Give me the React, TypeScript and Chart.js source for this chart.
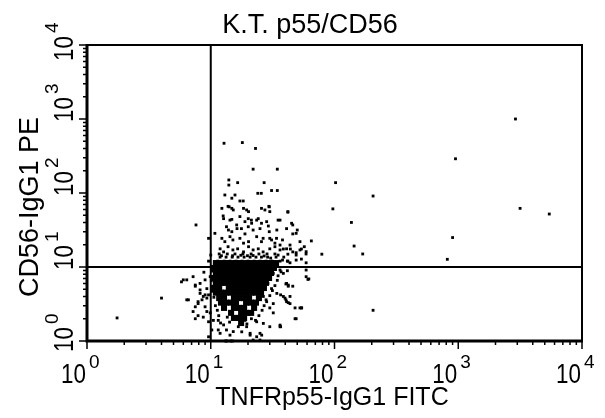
import React, { useEffect, useRef } from 'react';
import { Chart, registerables } from 'chart.js';

Chart.register(...registerables);

// ---------- text ----------
const PLOT_TITLE = 'K.T. p55/CD56';
const X_TITLE = 'TNFRp55-IgG1 FITC';
const Y_TITLE = 'CD56-IgG1 PE';

// ---------- axes ----------
const AXIS_MIN = 1;
const AXIS_MAX = 10000;
const DECADES = [1, 10, 100, 1000, 10000];
const DECADE_EXPONENTS = ['0', '1', '2', '3', '4'];
const MINOR_MULTIPLIERS = [2, 3, 4, 5, 6, 7, 8, 9];
const GATE_X = 10;
const GATE_Y = 10;

// ---------- events (FITC, PE) ----------
// dense core of the population, one row per PE level
const coreRowY = [11.3, 9.7, 8.3, 7.1, 6.1, 5.2, 4.5, 3.8, 3.3, 2.8, 2.4, 2.05, 1.75];
const coreRowX = [
  [11.0, 12.1, 13.3, 14.6, 16.0, 17.6, 19.3, 21.2, 23.2, 25.5, 27.9, 30.7, 33.7],
  [10.6, 11.7, 12.8, 14.0, 15.4, 16.9, 18.6, 20.4, 22.4, 24.5, 26.9, 29.6, 32.4],
  [11.0, 12.1, 13.3, 14.6, 16.0, 17.6, 19.3, 21.2, 23.2, 25.5, 27.9, 30.7],
  [10.6, 11.7, 12.8, 14.0, 15.4, 16.9, 18.6, 20.4, 22.4, 24.5, 26.9, 29.6],
  [11.0, 12.1, 13.3, 14.6, 16.0, 17.6, 19.3, 21.2, 23.2, 25.5, 27.9],
  [10.6, 11.7, 14.0, 15.4, 16.9, 18.6, 20.4, 22.4, 24.5, 26.9],
  [11.0, 12.1, 13.3, 14.6, 16.0, 17.6, 19.3, 21.2, 23.2, 25.5],
  [11.7, 12.8, 15.4, 16.9, 18.6, 20.4, 24.5],
  [12.1, 13.3, 14.6, 16.0, 19.3, 21.2, 23.2],
  [12.8, 15.4, 16.9, 18.6, 22.4],
  [14.6, 17.6, 19.3, 21.2],
  [15.4, 16.9, 18.6],
  [17.6],
];

const upperTail: [number, number][] = [
  [12.8, 470], [18, 480], [23, 400], [22, 210], [34.5, 210], [14, 150], [14, 128], [16.5, 138],
  [27, 138], [31, 108], [34.5, 108], [24, 99], [25.6, 99], [13, 94], [15.7, 94], [14.8, 85],
  [17.2, 78], [18.3, 78], [29.5, 66], [25.7, 62], [12.3, 62], [13.8, 66], [14.8, 62], [15.2, 59],
  [18.4, 62], [20.2, 56], [27.4, 59], [30, 56], [42, 56],
];

const midTail: [number, number][] = [
  [12.7, 45], [14.3, 43], [17.2, 48], [18.9, 41], [21.3, 43], [24.2, 45], [25.7, 39], [28.3, 41], [35, 43], [45, 39],
  [13.4, 35], [13.9, 31.6], [14.8, 30], [16.3, 33], [17.7, 33], [18.9, 28], [22, 31.6], [25, 33], [29.7, 30],
  [34.2, 31.6], [41, 33], [46, 28], [50, 31.6],
  [12.3, 24.4], [13, 22], [14.3, 25.7], [15.1, 23.2], [17.2, 24.4], [18.4, 21], [20.2, 22], [23.5, 25.7],
  [25.7, 22], [30, 24.4], [33, 21], [38, 23.2], [43.7, 19.8], [52.6, 22], [57, 18.8],
  [11.9, 17.6], [12.7, 16], [13.8, 18.8], [15.1, 17], [16.5, 17.6], [18.4, 16], [20.2, 18.8], [22, 17],
  [24.2, 17.6], [26.5, 16], [30, 17.6], [33, 15], [36.3, 17], [41, 17.6], [46, 16], [52.6, 17], [58.9, 15],
  [14.1, 65], [19.5, 59], [29.7, 65], [12.6, 49], [14.8, 44], [20.1, 45], [23.5, 43], [36.3, 43],
  [29.2, 35.8], [16.2, 37], [21.4, 39], [20.1, 35], [26.5, 24.4], [31, 23.2], [34, 24.4], [33, 18.8], [36.3, 19.8],
];

const gateBand: [number, number][] = [
  [11.7, 15], [13.6, 15], [15.7, 15], [18.2, 15], [21.2, 15], [24.5, 15], [28.5, 15],
  [11.9, 13.6], [13.3, 13.6], [14.9, 13.6], [16.6, 13.6], [18.6, 13.6], [20.8, 13.6], [23.2, 13.6],
  [25.7, 13.6], [28.8, 13.6], [33.7, 13.6], [38.9, 13.6],
  [11.4, 12], [12.8, 12], [14.3, 12], [16, 12], [17.9, 12], [20, 12], [22.4, 12], [25, 12],
  [28, 12], [31.3, 12], [36.3, 12], [42, 12],
  [12.2, 14.2], [15, 14.2], [17.5, 14.4], [19.8, 14.2], [22, 14.3], [27, 14.1], [30.5, 13.2], [35, 14.5],
];

const leftOfGate: [number, number][] = [
  [7.6, 37], [9.6, 24.4], [10.8, 28.5], [10, 14.5], [9.6, 12], [8.8, 8.5], [10.5, 9.1], [9.9, 7.4],
  [9.0, 6.7], [8.2, 6.0], [9.3, 5.1], [8.2, 4.4], [8.7, 4.0], [7.9, 3.4], [7.5, 2.9], [7.2, 2.5],
  [7.9, 2.2], [7.5, 2.0], [6.4, 3.6], [5.8, 6.3], [6.0, 6.7], [6.4, 6.7], [9.6, 1.14], [10.2, 1.41],
  [10.5, 1.9], [9.9, 2.4], [7.5, 5.5], [8.5, 3.6], [9.3, 3.8], [9.6, 4.2], [6.6, 3.6], [8.7, 2.1],
  [7.2, 7.4], [7.5, 5.7], [8.2, 4.9], [9.0, 4.2], [7.9, 3.2], [9.3, 2.5], [9.0, 2.9], [9.6, 1.82],
  [10.3, 8.8], [10.1, 6.5], [10.4, 5.5], [10.2, 4.7], [10.6, 3.9], [10.9, 3.0], [11.3, 2.6], [11.6, 2.2],
  [12.0, 1.75],
];

const lowerHalo: [number, number][] = [
  [32, 8.2], [36.3, 9.1], [29, 6.0], [31, 5.1], [34.2, 4.4], [38.6, 4.0], [41, 3.4], [43.7, 3.2],
  [26.6, 4.0], [28.3, 3.4], [30, 2.8], [32, 2.4], [41, 6.0], [42.3, 5.7], [48, 2.8], [52.6, 2.8],
  [59, 7.4], [61, 6.8], [36.3, 1.56], [48, 2.0], [26.6, 1.73], [25, 1.27], [22, 1.03], [11.5, 1.9],
  [12.7, 1.65], [13.4, 1.41], [11.9, 1.27], [14.3, 1.2], [16.7, 1.56], [17.8, 1.33], [19.5, 1.56],
  [20.8, 1.27], [18.9, 1.9], [21.3, 2.0], [23.5, 1.82], [13.5, 1], [14.5, 1], [13.2, 1], [15, 1],
  [11.5, 1.41], [15.2, 1.34], [20.8, 1.2], [23.5, 1.14], [25, 1.03], [32, 3.2], [30, 1.56],
  [25.8, 1.2], [43.7, 4.0], [54.3, 2.8], [36.3, 1.64],
  [37, 8.6], [35, 7.6], [34.5, 6.6], [33, 5.6], [31.5, 4.8], [30, 4.1], [28, 3.6], [27, 3.0],
  [26, 2.6], [24.5, 2.2], [23, 1.9], [13.6, 2.1], [20.6, 2.3], [14.2, 1.8], [19.6, 1.7],
];

const outliers: [number, number][] = [
  [2900, 1000], [950, 290], [102, 138], [205, 91], [42, 55], [97, 61], [3160, 62], [5440, 52],
  [137, 40], [46, 37], [49, 28.5], [900, 25], [65, 22.5], [144, 19.2], [169, 15], [79, 14.9],
  [816, 12.7], [54, 17.5], [44, 17.5], [38.6, 17.5], [59, 16.1], [49, 15.6], [49, 14.5], [42, 14.9],
  [38, 12.4], [41.6, 12], [43.7, 11.4], [49, 12.4], [54, 12.8], [59, 11.4], [38.6, 8.2], [41.6, 8.9],
  [59, 9.1], [62, 6.9], [40.5, 5.9], [42.3, 5.5], [46, 5.5], [36.7, 4.2], [39.8, 3.8], [40.5, 3.6],
  [42.3, 3.3], [54, 2.8], [49, 2.0], [205, 2.6], [36.7, 1.56], [1.75, 2.05], [4.0, 3.8],
];

const FONT = '"Liberation Sans", Arial, Helvetica, sans-serif';
const MAIN_SCALE = 0.8;

function drawPower(ctx: CanvasRenderingContext2D, exp: string, align: 'end' | 'start') {
  ctx.font = `28px ${FONT}`;
  const w = ctx.measureText('10').width * MAIN_SCALE;
  const start = align === 'end' ? -w - 1 : 0;
  ctx.save();
  ctx.translate(start, 0);
  ctx.scale(MAIN_SCALE, 1);
  ctx.textAlign = 'left';
  ctx.textBaseline = 'alphabetic';
  ctx.fillText('10', 0, 0);
  ctx.restore();
  ctx.font = `19px ${FONT}`;
  ctx.textAlign = 'left';
  ctx.textBaseline = 'alphabetic';
  ctx.fillText(exp, start + w + 3, -15);
}

const facsFrame = {
  id: 'facsFrame',
  afterDatasetsDraw(chart: any) {
    const { ctx, chartArea: ca, scales } = chart;
    const xs = scales.x;
    const ys = scales.y;
    ctx.save();
    ctx.strokeStyle = '#000';
    ctx.fillStyle = '#000';

    // plot frame
    ctx.lineWidth = 2;
    ctx.strokeRect(ca.left, ca.top, ca.right - ca.left, ca.bottom - ca.top);
    ctx.lineWidth = 3;
    ctx.beginPath();
    ctx.moveTo(ca.left, ca.top - 1);
    ctx.lineTo(ca.left, ca.bottom);
    ctx.lineTo(ca.right + 1, ca.bottom);
    ctx.stroke();

    // quadrant gates
    ctx.lineWidth = 2;
    const gx = xs.getPixelForValue(GATE_X);
    const gy = ys.getPixelForValue(GATE_Y);
    ctx.beginPath();
    ctx.moveTo(gx, ca.top);
    ctx.lineTo(gx, ca.bottom);
    ctx.moveTo(ca.left, gy);
    ctx.lineTo(ca.right, gy);
    ctx.stroke();

    // ticks
    ctx.lineWidth = 1.5;
    ctx.beginPath();
    DECADES.forEach((d, i) => {
      const px = xs.getPixelForValue(d);
      const py = ys.getPixelForValue(d);
      ctx.moveTo(px, ca.bottom);
      ctx.lineTo(px, ca.bottom + 8);
      ctx.moveTo(ca.left, py);
      ctx.lineTo(ca.left - 8, py);
      if (i < DECADES.length - 1) {
        MINOR_MULTIPLIERS.forEach((m) => {
          const mx = xs.getPixelForValue(d * m);
          const my = ys.getPixelForValue(d * m);
          ctx.moveTo(mx, ca.bottom);
          ctx.lineTo(mx, ca.bottom + 4);
          ctx.moveTo(ca.left, my);
          ctx.lineTo(ca.left - 4, my);
        });
      }
    });
    ctx.stroke();

    // x tick labels
    DECADES.forEach((d, i) => {
      const px = xs.getPixelForValue(d);
      ctx.save();
      ctx.translate(px, 383);
      drawPower(ctx, DECADE_EXPONENTS[i], 'end');
      ctx.restore();
    });

    // y tick labels (rotated)
    DECADES.forEach((d, i) => {
      const py = ys.getPixelForValue(d);
      const shift = i === 0 ? 11 : i === DECADES.length - 1 ? 16 : 3;
      ctx.save();
      ctx.translate(73, py + shift);
      ctx.rotate(-Math.PI / 2);
      drawPower(ctx, DECADE_EXPONENTS[i], 'start');
      ctx.restore();
    });

    // titles
    ctx.textBaseline = 'alphabetic';
    ctx.textAlign = 'center';
    ctx.font = `27px ${FONT}`;
    ctx.fillText(PLOT_TITLE, 310, 33);
    ctx.font = `25px ${FONT}`;
    ctx.fillText(X_TITLE, 332, 405);
    ctx.save();
    ctx.translate(38, 207);
    ctx.rotate(-Math.PI / 2);
    ctx.font = `27px ${FONT}`;
    ctx.fillText(Y_TITLE, 0, 0);
    ctx.restore();

    ctx.restore();
  },
};

export default function App() {
  const ref = useRef<HTMLCanvasElement | null>(null);

  useEffect(() => {
    if (!ref.current) return;
    const coreEvents = coreRowY.flatMap((yv, r) => coreRowX[r].map((xv) => ({ x: xv, y: yv })));
    const toPts = (arr: [number, number][]) => arr.map(([x, y]) => ({ x, y }));
    const sparse = [
      ...toPts(upperTail),
      ...toPts(midTail),
      ...toPts(gateBand),
      ...toPts(leftOfGate),
      ...toPts(lowerHalo),
      ...toPts(outliers),
    ];

    const chart = new Chart(ref.current, {
      type: 'scatter',
      data: {
        datasets: [
          {
            label: 'core',
            data: coreEvents,
            pointStyle: 'rect',
            pointRadius: 4.3,
            pointBorderWidth: 0,
            backgroundColor: '#000',
            borderColor: '#000',
            clip: false as any,
          },
          {
            label: 'events',
            data: sparse,
            pointStyle: 'rect',
            pointRadius: 2,
            pointBorderWidth: 0,
            backgroundColor: '#000',
            borderColor: '#000',
            clip: false as any,
          },
        ],
      },
      options: {
        animation: false,
        responsive: false,
        events: [],
        layout: { padding: { top: 45, right: 23, left: 0, bottom: 0 } },
        plugins: {
          legend: { display: false },
          tooltip: { enabled: false },
          title: { display: false },
        },
        scales: {
          x: {
            type: 'logarithmic',
            min: AXIS_MIN,
            max: AXIS_MAX,
            position: 'bottom',
            grid: { display: false },
            border: { display: false },
            ticks: { display: false },
            afterFit: (s: any) => {
              s.height = 77;
            },
          },
          y: {
            type: 'logarithmic',
            min: AXIS_MIN,
            max: AXIS_MAX,
            position: 'left',
            grid: { display: false },
            border: { display: false },
            ticks: { display: false },
            afterFit: (s: any) => {
              s.width = 87;
            },
          },
        },
      },
      plugins: [facsFrame],
    });
    return () => chart.destroy();
  }, []);

  return (
    <div style={{ position: 'fixed', left: 0, top: 0, width: 605, height: 418, background: '#fff' }}>
      <canvas ref={ref} width={605} height={418} style={{ display: 'block' }} />
    </div>
  );
}
